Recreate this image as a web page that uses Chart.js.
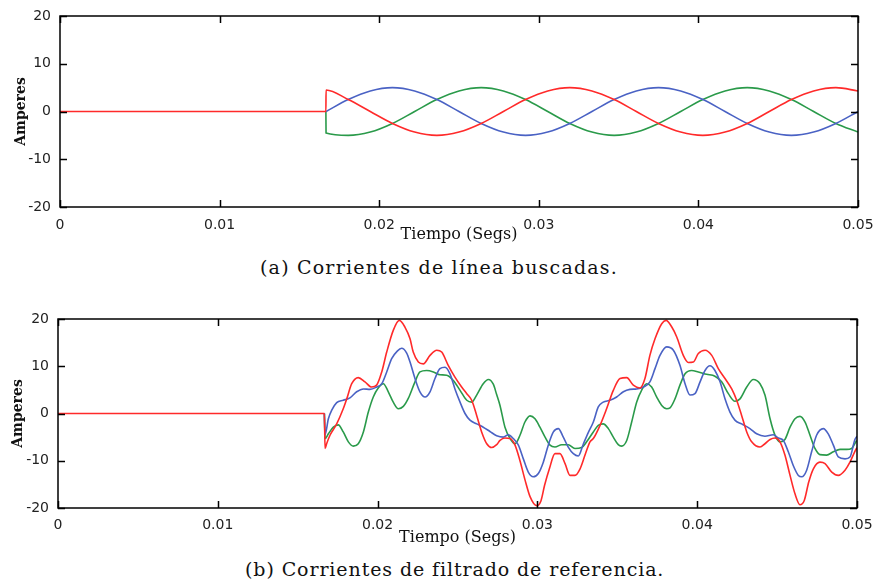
<!DOCTYPE html>
<html>
<head>
<meta charset="utf-8">
<script src="https://cdn.jsdelivr.net/npm/chart.js@4.4.1/dist/chart.umd.min.js"></script>
<style>
body { margin: 0; background: #fff; width: 875px; height: 586px; position: relative; overflow: hidden; }
canvas { position: absolute; left: 0; }
#topChart { top: 0; }
#botChart { top: 300px; }
.cap { position: absolute; font-family: "DejaVu Serif", serif; font-size: 19px; line-height: 22px; color: #111; white-space: nowrap; }
</style>
</head>
<body>
<canvas id="topChart" width="875" height="250"></canvas>
<canvas id="botChart" width="875" height="250"></canvas>
<div class="cap" id="capA" style="left:260px; top:256px; letter-spacing:1.2px;">(a) Corrientes de línea buscadas.</div>
<div class="cap" id="capB" style="left:245px; top:558px; letter-spacing:0.9px;">(b) Corrientes de filtrado de referencia.</div>
<script>
// axis ticks
var xTicks = [0, 0.01, 0.02, 0.03, 0.04, 0.05];
var xTickLabels = ['0', '0.01', '0.02', '0.03', '0.04', '0.05'];
var yTicks = [-20, -10, 0, 10, 20];
var yTickLabels = ['-20', '-10', '0', '10', '20'];

// (a) line currents, time in seconds
var topTime = [0, 0.01666, 0.01667, 0.01806, 0.01944, 0.02083, 0.02222, 0.02361, 0.02500, 0.02639,
  0.02778, 0.02917, 0.03056, 0.03194, 0.03333, 0.03472, 0.03611, 0.03750, 0.03889, 0.04028,
  0.04167, 0.04306, 0.04444, 0.04583, 0.04722, 0.04861, 0.05000];
var topRed = [0, 0, 4.5, 2.5, 0, -2.5, -4.3, -5, -4.3, -2.5, 0, 2.5, 4.3, 5, 4.3, 2.5, 0,
  -2.5, -4.3, -5, -4.3, -2.5, 0, 2.5, 4.3, 5, 4.3];
var topBlue = [null, null, 0, 2.5, 4.3, 5, 4.3, 2.5, 0, -2.5, -4.3, -5, -4.3, -2.5, 0, 2.5, 4.3,
  5, 4.3, 2.5, 0, -2.5, -4.3, -5, -4.3, -2.5, 0];
var topGreen = [null, 0, -4.5, -5, -4.3, -2.5, 0, 2.5, 4.3, 5, 4.3, 2.5, 0, -2.5, -4.3, -5, -4.3,
  -2.5, 0, 2.5, 4.3, 5, 4.3, 2.5, 0, -2.5, -4.3];

// (b) reference currents, [time, amperes]
var botRed = [[0,0],[0.01667,0],[0.01671,-7.4],[0.01681,-6.4],[0.01702,-4.6],[0.01744,-2.2],[0.01785,1.0],
  [0.01807,3.1],[0.01838,6.3],[0.01879,7.6],[0.01921,6.7],[0.01963,5.6],[0.01994,6.0],[0.02026,8.8],
  [0.02057,13.0],[0.02098,17.6],[0.02136,19.7],[0.02171,18.3],[0.02203,15.8],[0.02223,13.0],[0.02255,10.9],
  [0.02286,10.5],[0.02328,12.3],[0.02370,13.4],[0.02401,13.0],[0.02442,10.2],[0.02484,7.7],[0.02526,5.6],
  [0.02558,4.2],[0.02589,2.8],[0.02620,-0.4],[0.02651,-3.9],[0.02683,-6.4],[0.02714,-7.2],[0.02745,-6.6],
  [0.02766,-5.7],[0.02797,-5.2],[0.02829,-5.3],[0.02860,-6.7],[0.02891,-10.0],[0.02922,-14.0],[0.02954,-17.6],
  [0.02995,-19.5],[0.03022,-18.5],[0.03045,-15.2],[0.03075,-11.7],[0.03110,-8.5],[0.03141,-8.5],[0.03173,-10.6],
  [0.03204,-13.1],[0.03235,-13.1],[0.03267,-11.7],[0.03298,-8.8],[0.03329,-6.0],[0.03350,-5.3],[0.03392,-2.5],
  [0.03433,1.0],[0.03475,4.9],[0.03517,7.4],[0.03559,7.6],[0.03600,6.0],[0.03642,5.4],[0.03673,7.4],
  [0.03704,12.3],[0.03736,15.8],[0.03778,19.0],[0.03805,19.7],[0.03841,18.3],[0.03872,16.2],[0.03913,12.3],
  [0.03944,10.8],[0.03976,10.9],[0.04007,12.7],[0.04049,13.4],[0.04091,12.3],[0.04132,9.5],[0.04174,7.4],
  [0.04216,5.2],[0.04247,2.8],[0.04278,-0.4],[0.04310,-3.9],[0.04341,-6.0],[0.04393,-7.1],[0.04424,-6.4],
  [0.04456,-5.5],[0.04487,-5.2],[0.04518,-6.0],[0.04549,-8.8],[0.04581,-13.1],[0.04612,-17.0],[0.04643,-19.3],
  [0.04670,-18.4],[0.04698,-14.5],[0.04727,-11.7],[0.04768,-10.3],[0.04800,-10.6],[0.04842,-12.4],[0.04883,-13.1],
  [0.04925,-12.0],[0.04956,-10.3],[0.04987,-8.0],[0.05,-7.2]];
var botBlue = [[0.01667,0],[0.01671,-4.5],[0.01692,-1.1],[0.01713,0.7],[0.01744,2.3],[0.01785,2.8],
  [0.01827,3.3],[0.01869,4.6],[0.01911,5.2],[0.01952,5.1],[0.01994,5.6],[0.02026,6.3],[0.02057,8.8],
  [0.02088,11.6],[0.02123,13.2],[0.02150,13.8],[0.02182,12.8],[0.02203,10.9],[0.02234,7.4],[0.02265,4.6],
  [0.02297,3.5],[0.02328,4.6],[0.02359,7.4],[0.02390,9.5],[0.02422,9.8],[0.02453,8.4],[0.02484,5.2],
  [0.02516,2.4],[0.02547,0],[0.02578,-1.4],[0.02620,-2.2],[0.02661,-2.9],[0.02703,-3.8],[0.02745,-4.7],
  [0.02787,-5.0],[0.02818,-4.5],[0.02849,-5.3],[0.02881,-6.7],[0.02912,-9.6],[0.02943,-12.4],[0.02974,-13.4],
  [0.03006,-12.7],[0.03037,-10.3],[0.03068,-6.7],[0.03100,-3.9],[0.03131,-3.2],[0.03162,-5.0],[0.03193,-7.1],
  [0.03225,-8.5],[0.03256,-9.0],[0.03287,-6.5],[0.03319,-4.0],[0.03350,-1.8],[0.03381,1.4],[0.03412,2.4],
  [0.03454,2.8],[0.03496,3.5],[0.03538,4.6],[0.03579,5.1],[0.03621,5.2],[0.03663,5.6],[0.03704,6.7],
  [0.03736,9.5],[0.03767,12.3],[0.03809,14.1],[0.03851,13.4],[0.03892,10.2],[0.03924,6.3],[0.03955,3.9],
  [0.03986,4.2],[0.04018,6.7],[0.04049,9.1],[0.04080,10.1],[0.04111,9.1],[0.04143,6.7],[0.04174,3.1],
  [0.04205,0.3],[0.04236,-1.4],[0.04278,-2.2],[0.04330,-3.2],[0.04372,-4.3],[0.04424,-4.8],[0.04476,-4.5],
  [0.04508,-5.2],[0.04539,-5.7],[0.04570,-8.1],[0.04601,-11.0],[0.04633,-13.1],[0.04654,-13.4],[0.04685,-12.0],
  [0.04716,-8.1],[0.04747,-4.6],[0.04789,-3.2],[0.04820,-4.3],[0.04852,-6.7],[0.04883,-9.2],[0.04925,-9.6],
  [0.04956,-9.2],[0.04987,-5.5],[0.05,-4.8]];
var botGreen = [[0.01667,0],[0.01671,-5.3],[0.01692,-4.3],[0.01723,-2.9],[0.01754,-2.4],[0.01785,-3.9],
  [0.01817,-6.0],[0.01848,-6.9],[0.01879,-6.4],[0.01911,-3.9],[0.01942,0.3],[0.01973,3.5],[0.02004,5.4],
  [0.02036,6.3],[0.02067,4.6],[0.02098,2.4],[0.02130,1.0],[0.02161,1.5],[0.02192,3.2],[0.02234,6.7],
  [0.02265,8.8],[0.02307,9.1],[0.02349,8.8],[0.02390,8.2],[0.02432,8.1],[0.02474,7.0],[0.02516,4.9],
  [0.02558,2.8],[0.02589,2.4],[0.02620,3.9],[0.02661,6.3],[0.02693,7.2],[0.02724,6.2],[0.02745,4.0],
  [0.02766,1.7],[0.02797,-2.9],[0.02829,-5.3],[0.02860,-6.4],[0.02891,-4.6],[0.02922,-1.8],[0.02954,-0.5],
  [0.02985,-1.1],[0.03016,-2.9],[0.03048,-5.0],[0.03079,-6.7],[0.03110,-7.1],[0.03152,-6.6],[0.03193,-6.6],
  [0.03235,-7.4],[0.03277,-7.2],[0.03308,-6.0],[0.03350,-3.9],[0.03381,-2.5],[0.03412,-2.2],[0.03444,-3.2],
  [0.03475,-5.0],[0.03506,-6.6],[0.03527,-6.9],[0.03559,-5.7],[0.03590,-1.8],[0.03621,2.4],[0.03652,4.9],
  [0.03684,6.3],[0.03715,5.6],[0.03746,3.5],[0.03778,1.7],[0.03809,1.0],[0.03830,1.2],[0.03861,3.1],
  [0.03892,6.0],[0.03924,8.4],[0.03965,9.1],[0.04007,8.8],[0.04059,8.3],[0.04111,7.9],[0.04153,6.7],
  [0.04195,4.2],[0.04236,2.6],[0.04268,3.1],[0.04310,5.6],[0.04351,7.2],[0.04393,6.3],[0.04424,3.9],
  [0.04456,-1.1],[0.04487,-4.6],[0.04518,-6.0],[0.04549,-5.5],[0.04581,-2.9],[0.04612,-1.1],[0.04643,-0.6],
  [0.04675,-1.8],[0.04706,-4.6],[0.04737,-7.4],[0.04768,-8.7],[0.04810,-8.8],[0.04852,-8.1],[0.04894,-7.6],
  [0.04935,-7.6],[0.04966,-7.4],[0.04998,-5.7]];

var RED = '#ff2a2a', BLUE = '#4a62c4', GREEN = '#2a9a4a';

// MATLAB style box with inward ticks
var boxPlugin = {
  id: 'box',
  afterDatasetsDraw: function(chart) {
    var a = chart.chartArea, ctx = chart.ctx;
    var sx = chart.scales.x, sy = chart.scales.y;
    ctx.save();
    ctx.strokeStyle = '#000';
    ctx.lineWidth = 1.5;
    ctx.beginPath();
    xTicks.forEach(function(v) {
      var px = Math.round(sx.getPixelForValue(v)) + 0.5;
      ctx.moveTo(px, a.bottom); ctx.lineTo(px, a.bottom - 7);
      ctx.moveTo(px, a.top); ctx.lineTo(px, a.top + 7);
    });
    yTicks.forEach(function(v) {
      var py = Math.round(sy.getPixelForValue(v)) + 0.5;
      ctx.moveTo(a.left, py); ctx.lineTo(a.left + 7, py);
      ctx.moveTo(a.right, py); ctx.lineTo(a.right - 7, py);
    });
    ctx.stroke();
    ctx.strokeRect(a.left, a.top, a.right - a.left, a.bottom - a.top);
    ctx.restore();
  }
};

function lineSet(points, color) {
  return {
    data: points,
    borderColor: color,
    borderWidth: 1.6,
    pointRadius: 0,
    fill: false,
    cubicInterpolationMode: 'monotone'
  };
}

function makeChart(id, datasets, lay) {
  return new Chart(document.getElementById(id), {
    type: 'line',
    data: { datasets: datasets },
    plugins: [boxPlugin],
    options: {
      responsive: false,
      animation: false,
      devicePixelRatio: 1,
      events: [],
      layout: { padding: { top: lay.top, right: lay.right, left: 0, bottom: 0 } },
      plugins: { legend: { display: false }, tooltip: { enabled: false } },
      scales: {
        x: {
          type: 'linear', min: 0, max: 0.05,
          grid: { display: false, drawTicks: false },
          border: { display: false },
          afterBuildTicks: function(s) { s.ticks = xTicks.map(function(v) { return { value: v }; }); },
          afterFit: function(s) { s.height = lay.xh; s.paddingLeft = 0; s.paddingRight = 0; },
          ticks: {
            autoSkip: false, maxRotation: 0, padding: lay.xpad,
            color: '#222', font: { family: 'DejaVu Sans', size: 14 },
            callback: function(v) { return xTickLabels[xTicks.indexOf(v)]; }
          },
          title: {
            display: true, text: 'Tiempo (Segs)', color: '#111',
            font: { family: 'DejaVu Serif', size: 16 },
            padding: { top: 0, bottom: lay.xtpad }
          }
        },
        y: {
          min: -20, max: 20,
          grid: { display: false, drawTicks: false },
          border: { display: false },
          afterBuildTicks: function(s) { s.ticks = yTicks.map(function(v) { return { value: v }; }); },
          afterFit: function(s) { s.width = lay.left; s.paddingTop = 0; s.paddingBottom = 0; },
          ticks: {
            autoSkip: false, padding: 9,
            color: '#222', font: { family: 'DejaVu Sans', size: 14 },
            callback: function(v) { return yTickLabels[yTicks.indexOf(v)]; }
          },
          title: {
            display: true, text: 'Amperes', color: '#111',
            font: { family: 'DejaVu Serif', size: 14, weight: 'bold' },
            padding: { top: lay.ytpad, bottom: 0 }
          }
        }
      }
    }
  });
}

function pairsToPoints(p) {
  return p.map(function(d) { return { x: d[0], y: d[1] }; });
}
function seriesToPoints(t, v) {
  var out = [];
  t.forEach(function(x, i) { if (v[i] !== null) out.push({ x: x, y: v[i] }); });
  return out;
}

makeChart('topChart', [
  lineSet(seriesToPoints(topTime, topRed), RED),
  lineSet(seriesToPoints(topTime, topBlue), BLUE),
  lineSet(seriesToPoints(topTime, topGreen), GREEN)
], { top: 16, right: 17, left: 60, xh: 43, xpad: 10, xtpad: 6, ytpad: 13 });

makeChart('botChart', [
  lineSet(pairsToPoints(botRed), RED),
  lineSet(pairsToPoints(botBlue), BLUE),
  lineSet(pairsToPoints(botGreen), GREEN)
], { top: 19, right: 18, left: 58, xh: 42, xpad: 9, xtpad: 3, ytpad: 10 });
</script>
</body>
</html>
